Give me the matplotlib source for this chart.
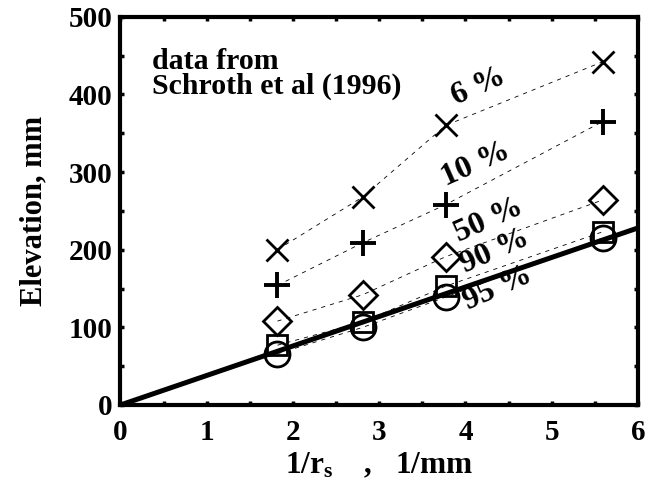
import numpy as np
import matplotlib
matplotlib.use("Agg")
from matplotlib import pyplot as plt
from matplotlib.ticker import MultipleLocator

# inverse scale parameter 1/r_s [1/mm]
inv_rs = [1.82, 2.81, 3.77, 5.59]
# elevation [mm] for each saturation level
elev_6 = [200, 268, 360, 442]
elev_10 = [154, 209, 258, 365]
elev_50 = [108, 142, 191, 264]
elev_90 = [77, 107, 153, 223]
elev_95 = [66, 100, 139, 215]
# fitted line through origin, elevation = slope * (1/r_s)
slope_fit = 38.0
labels_pct = ["6 %", "10 %", "50 %", "90 %", "95 %"]

plt.rcParams["font.family"] = "Liberation Serif"
plt.rcParams["font.weight"] = "bold"
plt.rcParams["axes.labelweight"] = "bold"
plt.rcParams["mathtext.fontset"] = "custom"
plt.rcParams["mathtext.rm"] = "Liberation Serif:bold"
plt.rcParams["mathtext.it"] = "Liberation Serif:bold"
plt.rcParams["mathtext.bf"] = "Liberation Serif:bold"

fig = plt.figure(figsize=(6.63, 4.90), dpi=100)
ax = fig.add_axes([0.1817, 0.1735, 0.7806, 0.7924])

series = [elev_6, elev_10, elev_50, elev_90, elev_95]
markers = [("x", 16, 2.0), ("+", 19, 2.8), ("D", 14, 2.0), ("s", 14, 2.0), ("o", 18, 2.0)]
for _y, (_m, _ms, _mew) in zip(series, markers):
    ax.plot(inv_rs, _y, ls=(0, (5, 6)), lw=0.6, color="k")
    ax.plot(inv_rs, _y, ls="none", marker=_m, ms=_ms, mew=_mew, mec="k", mfc="none")

_xf = np.array([0.0, 6.0])
ax.plot(_xf, slope_fit * _xf, color="k", lw=3.6, solid_capstyle="butt")

# percentage labels along the dashed curves
_pos = [(4.15, 410), (4.12, 310), (4.27, 238), (4.34, 198), (4.38, 150)]
for _t, (_x, _y) in zip(labels_pct, _pos):
    ax.text(_x, _y, _t, fontsize=23, fontweight="bold", rotation=24, ha="center",
            va="center", rotation_mode="anchor")

ax.text(0.061, 0.92, "data from\nSchroth et al (1996)", transform=ax.transAxes,
        fontsize=21.5, fontweight="bold", va="top", ha="left", linespacing=0.92)

ax.set_xlim(0, 6)
ax.set_ylim(0, 500)
ax.xaxis.set_major_locator(MultipleLocator(1))
ax.xaxis.set_minor_locator(MultipleLocator(0.5))
ax.yaxis.set_major_locator(MultipleLocator(100))
ax.yaxis.set_minor_locator(MultipleLocator(50))
ax.tick_params(which="both", direction="in", top=True, right=True, length=3, width=2.5)
ax.tick_params(axis="x", labelsize=21, pad=10)
ax.tick_params(axis="y", labelsize=21, pad=6)
for _s in ax.spines.values():
    _s.set_linewidth(3)

ax.set_xlabel(r"1/r$_{\rm s}$    ,   1/mm", fontsize=22.5, fontweight="bold")
ax.set_ylabel("Elevation, mm", fontsize=22, fontweight="bold")
ax.xaxis.set_label_coords(0.5, -0.118)
ax.yaxis.set_label_coords(-0.14, 0.5)

fig.savefig("out.png", dpi=100)
